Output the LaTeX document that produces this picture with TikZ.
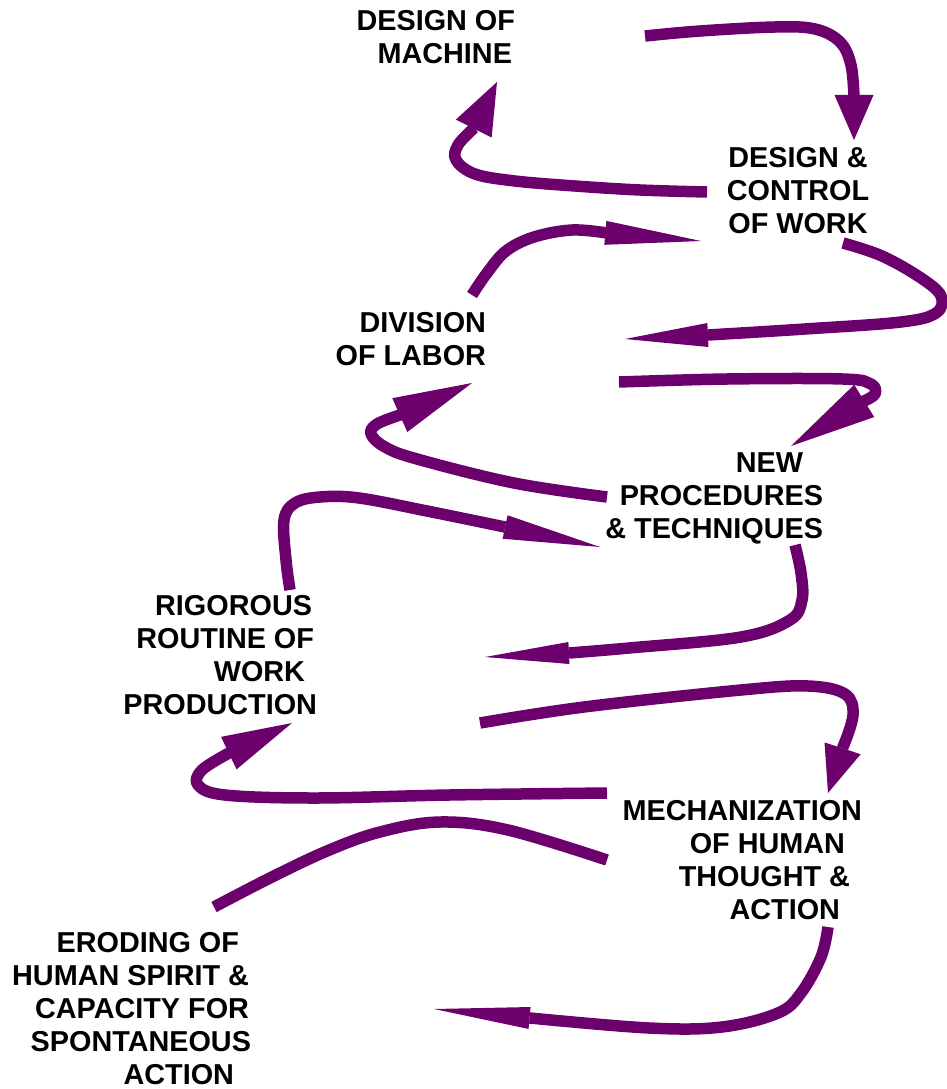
\documentclass[tikz,border=0pt]{standalone}
\usepackage{fontspec}
\setmainfont{Liberation Sans}
\usetikzlibrary{arrows.meta}
\definecolor{plum}{RGB}{108,0,108}
\begin{document}
\begin{tikzpicture}[x=1pt,y=-1pt,
  lbl/.style={font=\bfseries\fontsize{28.8}{33}\selectfont, inner sep=0pt, outer sep=0pt},
  loop/.style={draw=plum, line width=11.5pt, line join=round, line cap=butt},
  head/.style 2 args={-{Triangle[length=#1,width=#2,line width=0pt]}},
]
\useasboundingbox (0,0) rectangle (947,1089);

% stages of the cycle
\node[lbl, anchor=north east, align=right] (machine) at (515,10) {DESIGN OF\\MACHINE\kern3pt};
\node[lbl, anchor=north, align=center] (control) at (798,147) {DESIGN \&\\CONTROL\\OF WORK};
\node[lbl, anchor=north east, align=right] (labor) at (486,312) {DIVISION\\OF LABOR};
\node[lbl, anchor=north east, align=right] (proc) at (823,453) {NEW\kern20pt\\PROCEDURES\\\& TECHNIQUES};
\node[lbl, anchor=north east, align=right] (routine) at (317,595) {RIGOROUS\kern5pt\\ROUTINE OF\kern3pt\\WORK\kern12pt\\PRODUCTION};
\node[lbl, anchor=north east, align=right] (mech) at (862,800) {MECHANIZATION\\OF HUMAN\kern17pt\\THOUGHT \&\kern12pt\\ACTION\kern22pt};
\node[lbl, anchor=north east, align=right] (erode) at (251,932) {ERODING OF\kern12pt\\HUMAN SPIRIT \&\kern2pt\\CAPACITY FOR\kern2pt\\SPONTANEOUS\\ACTION\kern17pt};

% connector ends
\coordinate (a1s) at (645,36);  \coordinate (a1t) at (854,140);
\coordinate (a2s) at (707,192); \coordinate (a2t) at (497,82);
\coordinate (a3s) at (472,295); \coordinate (a3t) at (701,241);
\coordinate (a4s) at (843,243); \coordinate (a4t) at (625,339);
\coordinate (a5s) at (619,382); \coordinate (a5t) at (791,446);
\coordinate (a6s) at (607,497); \coordinate (a6t) at (472,383);
\coordinate (a7s) at (290,590); \coordinate (a7t) at (600,547);
\coordinate (a8s) at (795,545); \coordinate (a8t) at (485,657);
\coordinate (a9s) at (480,723); \coordinate (a9t) at (828,793);
\coordinate (a10s) at (607,793); \coordinate (a10t) at (292,723);
\coordinate (a11s) at (607,860); \coordinate (a11t) at (214,907);
\coordinate (a12s) at (828,927); \coordinate (a12t) at (434,1009);

% machine -> design & control
\draw[loop, head={45pt}{39pt}] plot[smooth, tension=0.6] coordinates
  {(a1s) (700,31) (775,27) (815,29) (840,42) (851,65) (854,98)} -- (a1t);
% design & control -> machine
\draw[loop, head={52pt}{40pt}] plot[smooth, tension=0.6] coordinates
  {(a2s) (640,190) (575,186) (515,181) (475,174) (456,160) (458,145) (474,128)} -- (a2t);
% division -> design & control
\draw[loop, head={96pt}{24pt}] plot[smooth, tension=0.6] coordinates
  {(a3s) (487,273) (506,251) (534,237) (572,230) (607,233)} -- (a3t);
% design & control -> division
\draw[loop, head={83pt}{24pt}] plot[smooth, tension=0.6] coordinates
  {(a4s) (882,256) (921,278) (941,296) (936,313) (901,322) (805,329) (708,335)} -- (a4t);
% division -> new procedures
\draw[loop, head={86pt}{38pt}] plot[smooth, tension=0.6] coordinates
  {(a5s) (727,379) (843,379) (871,384) (875,394) (864,401)} -- (a5t);
% new procedures -> division
\draw[loop, head={79pt}{37pt}] plot[smooth, tension=0.6] coordinates
  {(a6s) (514,483) (417,459) (385,447) (371,434) (377,424) (400,415)} -- (a6t);
% rigorous routine -> new procedures
\draw[loop, head={97pt}{24pt}] plot[smooth, tension=0.6] coordinates
  {(a7s) (286,560) (284,520) (295,503) (320,497) (359,498) (427,511) (505,527)} -- (a7t);
% new procedures -> rigorous routine
\draw[loop, head={84pt}{22pt}] plot[smooth, tension=0.6] coordinates
  {(a8s) (801,573) (802,600) (790,620) (741,637) (629,648) (569,653)} -- (a8t);
% rigorous routine -> mechanization
\draw[loop, head={47pt}{38pt}] plot[smooth, tension=0.6] coordinates
  {(a9s) (584,707) (741,690) (808,686) (845,694) (853,715) (843,747)} -- (a9t);
% mechanization -> rigorous routine
\draw[loop, head={70pt}{36pt}] plot[smooth, tension=0.6] coordinates
  {(a10s) (449,795) (315,798) (225,795) (198,785) (202,770) (229,753)} -- (a10t);
% mechanization -> eroding (plain stroke)
\draw[loop] plot[smooth, tension=0.6] coordinates
  {(a11s) (508,830) (440,822) (380,832) (327,851) (270,878) (a11t)};
% mechanization -> eroding
\draw[loop, head={96pt}{22pt}] plot[smooth, tension=0.6] coordinates
  {(a12s) (821,957) (801,993) (778,1013) (722,1027) (649,1028) (530,1018)} -- (a12t);
\end{tikzpicture}
\end{document}
